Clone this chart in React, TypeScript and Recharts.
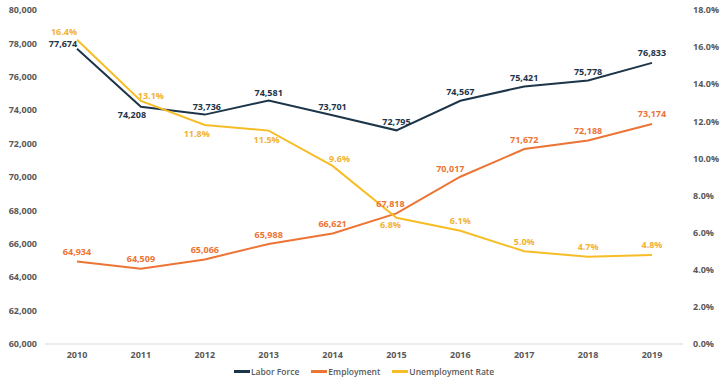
import React from 'react';
import { LineChart, Line, XAxis, YAxis, Legend, LabelList } from 'recharts';

const years = ['2010', '2011', '2012', '2013', '2014', '2015', '2016', '2017', '2018', '2019'];
const laborForce = [77674, 74208, 73736, 74581, 73701, 72795, 74567, 75421, 75778, 76833];
const employment = [64934, 64509, 65066, 65988, 66621, 67818, 70017, 71672, 72188, 73174];
const unemploymentRate = [16.4, 13.1, 11.8, 11.5, 9.6, 6.8, 6.1, 5.0, 4.7, 4.8];
const leftTicks = [60000, 62000, 64000, 66000, 68000, 70000, 72000, 74000, 76000, 78000, 80000];
const rightTicks = [0, 2, 4, 6, 8, 10, 12, 14, 16, 18];

const data = years.map((year, i) => ({
  year,
  labor: laborForce[i],
  emp: employment[i],
  rate: unemploymentRate[i],
}));

const FONT = '"Open Sans", "DejaVu Sans", sans-serif';
const C_LABOR = '#1d3549';
const C_EMP = '#ec7434';
const C_RATE = '#f7bd26';
const C_RATE_TXT = '#f2b233';

// label offsets [dx, dy] relative to each point (label centre)
const laborOff: [number, number][] = [
  [-14, -5], [-9, 8], [2, -8], [0, -8], [0, -9], [0, -9], [0, -9], [0, -9], [0, -9], [0, -10],
];
const empOff: [number, number][] = [
  [0, -10], [0, -10], [0, -10], [0, -10], [0, -10], [-6, -10], [-10, -8], [0, -10], [0, -10], [0, -10],
];
const rateOff: [number, number][] = [
  [-13, -8], [10, -5], [-8, 8], [-2, 9], [7, -7], [-6, 7], [0, -10], [0, -10], [0, -10], [0, -10],
];

const makeLabel = (offs: [number, number][], color: string, fmt: (v: number) => string) =>
  (props: any) => {
    const { x, y, value, index } = props;
    const [dx, dy] = offs[index] || [0, -10];
    return (
      <text
        x={x + dx}
        y={y + dy}
        textAnchor="middle"
        dominantBaseline="central"
        fill={color}
        fontSize={9}
        fontWeight={700}
        fontFamily={FONT}
      >
        {fmt(value)}
      </text>
    );
  };

const fmtNum = (v: number) => v.toLocaleString('en-US');
const fmtPct = (v: number) => `${v.toFixed(1)}%`;

const legendItems = [
  { name: 'Labor Force', color: C_LABOR },
  { name: 'Employment', color: C_EMP },
  { name: 'Unemployment Rate', color: C_RATE },
];

const renderLegend = () => (
  <div style={{ display: 'flex', justifyContent: 'center', alignItems: 'center', gap: 12, fontFamily: FONT, fontSize: 8.5, fontWeight: 600, color: '#595959' }}>
    {legendItems.map((it) => (
      <div key={it.name} style={{ display: 'flex', alignItems: 'center' }}>
        <span style={{ display: 'inline-block', width: 16, height: 3, background: it.color, marginRight: 1 }} />
        <span>{it.name}</span>
      </div>
    ))}
  </div>
);

const tickStyle = { fontSize: 9, fontWeight: 700, fill: '#595959', fontFamily: FONT };

export default function App() {
  return (
    <div style={{ position: 'absolute', left: 0, top: 0, background: '#fff' }}>
      <LineChart width={728} height={384} data={data} margin={{ top: 10, right: 0, bottom: 0, left: 0 }}>
        <XAxis
          dataKey="year"
          tickLine={false}
          axisLine={{ stroke: '#d9d9d9' }}
          tick={tickStyle}
          height={22}
          padding={{ left: 32, right: 31 }}
          interval={0}
        />
        <YAxis
          yAxisId="left"
          domain={[60000, 80000]}
          ticks={leftTicks}
          tickFormatter={fmtNum}
          axisLine={false}
          tickLine={false}
          tick={tickStyle}
          width={45}
          interval={0}
        />
        <YAxis
          yAxisId="right"
          orientation="right"
          domain={[0, 18]}
          ticks={rightTicks}
          tickFormatter={fmtPct}
          axisLine={false}
          tickLine={false}
          tick={tickStyle}
          width={45}
          tickMargin={4}
          interval={0}
        />
        <Legend verticalAlign="bottom" height={18} content={renderLegend} />
        <Line yAxisId="left" dataKey="labor" name="Labor Force" stroke={C_LABOR} strokeWidth={2} dot={false} isAnimationActive={false}>
          <LabelList dataKey="labor" content={makeLabel(laborOff, C_LABOR, fmtNum)} />
        </Line>
        <Line yAxisId="left" dataKey="emp" name="Employment" stroke={C_EMP} strokeWidth={2} dot={false} isAnimationActive={false}>
          <LabelList dataKey="emp" content={makeLabel(empOff, C_EMP, fmtNum)} />
        </Line>
        <Line yAxisId="right" dataKey="rate" name="Unemployment Rate" stroke={C_RATE} strokeWidth={2} dot={false} isAnimationActive={false}>
          <LabelList dataKey="rate" content={makeLabel(rateOff, C_RATE_TXT, fmtPct)} />
        </Line>
      </LineChart>
    </div>
  );
}
